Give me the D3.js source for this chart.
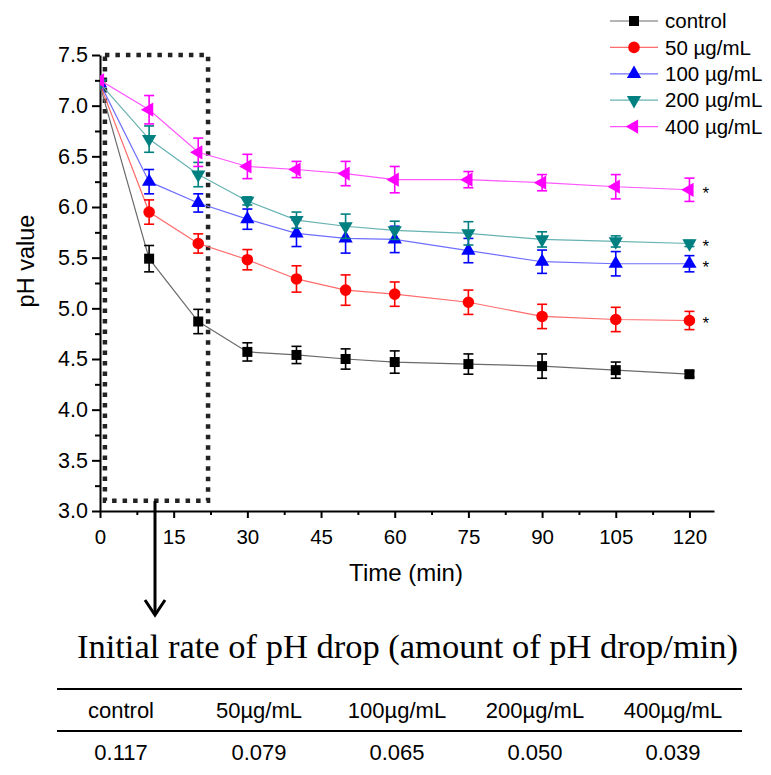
<!DOCTYPE html>
<html>
<head>
<meta charset="utf-8">
<script src="https://cdn.jsdelivr.net/npm/d3@7"></script>
<style>
  body { margin: 0; background: #fff; }
  svg { display: block; font-family: "Liberation Sans", Arial, sans-serif; }
</style>
</head>
<body>
<svg id="chart" width="771" height="775"></svg>
<script>
// Data
const times = [0, 10, 20, 30, 40, 50, 60, 75, 90, 105, 120];
const seriesNames = ['control', '50 µg/mL', '100 µg/mL', '200 µg/mL', '400 µg/mL'];
const controlMean = [7.20, 5.49, 4.87, 4.57, 4.54, 4.50, 4.47, 4.45, 4.43, 4.39, 4.35];
const controlErr  = [0.02, 0.13, 0.12, 0.09, 0.085, 0.10, 0.11, 0.10, 0.12, 0.08, 0.03];
const c50Mean  = [7.21, 5.95, 5.64, 5.48, 5.29, 5.18, 5.14, 5.06, 4.92, 4.89, 4.88];
const c50Err   = [0.02, 0.12, 0.095, 0.10, 0.13, 0.15, 0.12, 0.12, 0.12, 0.12, 0.09];
const c100Mean = [7.22, 6.25, 6.04, 5.88, 5.74, 5.69, 5.68, 5.57, 5.46, 5.44, 5.44];
const c100Err  = [0.02, 0.12, 0.09, 0.10, 0.13, 0.145, 0.13, 0.12, 0.115, 0.12, 0.08];
const c200Mean = [7.22, 6.67, 6.32, 6.06, 5.87, 5.81, 5.77, 5.74, 5.68, 5.66, 5.64];
const c200Err  = [0.02, 0.13, 0.12, 0.04, 0.08, 0.12, 0.09, 0.115, 0.075, 0.055, 0.03];
const c400Mean = [7.25, 6.96, 6.54, 6.40, 6.37, 6.33, 6.27, 6.27, 6.24, 6.20, 6.17];
const c400Err  = [0.02, 0.14, 0.14, 0.12, 0.08, 0.12, 0.13, 0.08, 0.08, 0.12, 0.115];
const significant = [false, true, true, true, true]; // '*' after the last point

const xTicks = [0, 15, 30, 45, 60, 75, 90, 105, 120];
const yTicks = [3.0, 3.5, 4.0, 4.5, 5.0, 5.5, 6.0, 6.5, 7.0, 7.5];

// Zoom box around the initial phase, in data units
const boxTime = [1, 22];
const boxPH = [3.1, 7.5];

// Table under the chart
const tableTitle = 'Initial rate of pH drop (amount of pH drop/min)';
const tableHeads = ['control', '50µg/mL', '100µg/mL', '200µg/mL', '400µg/mL'];
const tableRates = ['0.117', '0.079', '0.065', '0.050', '0.039'];

// Styling per series
const markerColors = ['#000000', '#ff0000', '#0000ff', '#008080', '#ff00ff'];
const lineColors   = ['#6a6a6a', '#ff6a6a', '#6f6fff', '#66b2b2', '#ff55ff'];
const symbols = [
    {type: d3.symbolSquare, size: 100, rotate: 0},
    {type: d3.symbolCircle, size: 105, rotate: 0},
    {type: d3.symbolTriangle, size: 88, rotate: 0},
    {type: d3.symbolTriangle, size: 88, rotate: 180},
    {type: d3.symbolTriangle, size: 88, rotate: -90},
];

const means = [controlMean, c50Mean, c100Mean, c200Mean, c400Mean];
const errs  = [controlErr, c50Err, c100Err, c200Err, c400Err];
const series = seriesNames.map((name, i) => ({
    name, i,
    points: times.map((t, j) => ({t, v: means[i][j], e: errs[i][j]}))
}));

const svg = d3.select('#chart');

// Plot area
const plotLeft = 100, plotRight = 714, plotTop = 55, plotBottom = 511;
const x = d3.scaleLinear().domain([0, 125]).range([plotLeft, plotRight]);
const y = d3.scaleLinear().domain([3, 7.5]).range([plotBottom, plotTop]);

// markers at t=0 get cut by the axis, like in the original
svg.append('defs').append('clipPath').attr('id', 'plot-clip')
    .append('rect')
    .attr('x', plotLeft).attr('y', 0)
    .attr('width', plotRight - plotLeft).attr('height', plotBottom);

// Axes: major + minor ticks
const minorX = d3.range(7.5, 125, 15);
const minorY = d3.range(3.25, 7.5, 0.5);

const xAxisG = svg.append('g').attr('transform', `translate(0,${plotBottom})`);
xAxisG.call(d3.axisBottom(x).tickValues(minorX).tickSize(4).tickFormat('').tickSizeOuter(0));
xAxisG.call(g => g.select('.domain').remove());
const xMajor = svg.append('g').attr('transform', `translate(0,${plotBottom})`)
    .call(d3.axisBottom(x).tickValues(xTicks).tickSize(7).tickPadding(11).tickSizeOuter(0));
xMajor.selectAll('text').style('font-size', '20.5px').attr('fill', '#000');

const yAxisG = svg.append('g').attr('transform', `translate(${plotLeft},0)`);
yAxisG.call(d3.axisLeft(y).tickValues(minorY).tickSize(5).tickFormat('').tickSizeOuter(0));
yAxisG.call(g => g.select('.domain').remove());
const yMajor = svg.append('g').attr('transform', `translate(${plotLeft},0)`)
    .call(d3.axisLeft(y).tickValues(yTicks).tickSize(8).tickPadding(4).tickFormat(d3.format('.1f')).tickSizeOuter(0));
yMajor.selectAll('text').style('font-size', '21.5px').attr('fill', '#000');

svg.selectAll('.domain, .tick line').attr('stroke', '#000').attr('stroke-width', 2);

// Axis titles
svg.append('text')
    .attr('x', 406).attr('y', 581)
    .attr('text-anchor', 'middle')
    .style('font-size', '24px')
    .text('Time (min)');
svg.append('text')
    .attr('transform', 'translate(34,261) rotate(-90)')
    .attr('text-anchor', 'middle')
    .style('font-size', '23.5px')
    .text('pH value');

// Dotted box
svg.append('rect')
    .attr('x', x(boxTime[0])).attr('y', y(boxPH[1]))
    .attr('width', x(boxTime[1]) - x(boxTime[0]))
    .attr('height', y(boxPH[0]) - y(boxPH[1]))
    .attr('fill', 'none')
    .attr('stroke', '#222')
    .attr('stroke-width', 4.5)
    .attr('stroke-dasharray', '4.5,6');

// Lines, error bars, markers
const line = d3.line().x(d => x(d.t)).y(d => y(d.v));
const symbolPath = s => d3.symbol().type(s.type).size(s.size)();

const plotG = svg.append('g').attr('clip-path', 'url(#plot-clip)');
const sG = plotG.selectAll('g.series').data(series).join('g').attr('class', 'series');

sG.append('path')
    .attr('d', d => line(d.points))
    .attr('fill', 'none')
    .attr('stroke', d => lineColors[d.i])
    .attr('stroke-width', 1.2);

sG.each(function(s) {
    const g = d3.select(this);
    const eb = g.selectAll('g.err').data(s.points.filter(p => p.e > 0.025)).join('g')
        .attr('class', 'err')
        .attr('stroke', markerColors[s.i])
        .attr('stroke-width', 1.6);
    eb.append('line')
        .attr('x1', p => x(p.t)).attr('x2', p => x(p.t))
        .attr('y1', p => y(p.v - p.e)).attr('y2', p => y(p.v + p.e));
    eb.append('line')
        .attr('x1', p => x(p.t) - 5).attr('x2', p => x(p.t) + 5)
        .attr('y1', p => y(p.v + p.e)).attr('y2', p => y(p.v + p.e));
    eb.append('line')
        .attr('x1', p => x(p.t) - 5).attr('x2', p => x(p.t) + 5)
        .attr('y1', p => y(p.v - p.e)).attr('y2', p => y(p.v - p.e));
});

sG.each(function(s) {
    d3.select(this).selectAll('path.mark').data(s.points).join('path')
        .attr('class', 'mark')
        .attr('d', symbolPath(symbols[s.i]))
        .attr('transform', p => `translate(${x(p.t)},${y(p.v)}) rotate(${symbols[s.i].rotate})`)
        .attr('fill', markerColors[s.i]);
});

// Significance stars
svg.selectAll('text.star').data(series.filter(s => significant[s.i])).join('text')
    .attr('class', 'star')
    .attr('x', x(120) + 13)
    .attr('y', s => y(s.points[s.points.length - 1].v) + 9)
    .style('font-size', '17px')
    .text('*');

// Legend
const legend = svg.append('g').attr('transform', 'translate(610,21)');
const lg = legend.selectAll('g').data(series).join('g')
    .attr('transform', (d, i) => `translate(0,${i * 26.4})`);
lg.append('line').attr('x1', 0).attr('x2', 48)
    .attr('stroke', d => lineColors[d.i]).attr('stroke-width', 1.2);
lg.append('path')
    .attr('d', d => symbolPath(symbols[d.i]))
    .attr('transform', d => `translate(24,0) rotate(${symbols[d.i].rotate})`)
    .attr('fill', d => markerColors[d.i]);
lg.append('text').attr('x', 55).attr('dy', '0.35em')
    .style('font-size', '20.5px')
    .text(d => d.name);

// Arrow from the box down to the table
const arrowX = 155;
svg.append('line').attr('x1', arrowX).attr('x2', arrowX)
    .attr('y1', y(boxPH[0])).attr('y2', 614)
    .attr('stroke', '#000').attr('stroke-width', 3);
svg.append('path')
    .attr('d', `M${arrowX - 10},600 L${arrowX},615 L${arrowX + 10},600`)
    .attr('fill', 'none').attr('stroke', '#000').attr('stroke-width', 3);

// Table
svg.append('text')
    .attr('x', 407.5).attr('y', 658)
    .attr('text-anchor', 'middle')
    .style('font-family', '"Liberation Serif", "Times New Roman", serif')
    .style('font-size', '34.5px')
    .text(tableTitle);

const col = d3.scaleBand().domain(tableHeads).range([52, 742]);
svg.append('line').attr('x1', 57).attr('x2', 742).attr('y1', 689).attr('y2', 689)
    .attr('stroke', '#000').attr('stroke-width', 2.2);
svg.append('line').attr('x1', 57).attr('x2', 742).attr('y1', 731).attr('y2', 731)
    .attr('stroke', '#000').attr('stroke-width', 2.2);

svg.selectAll('text.head').data(tableHeads).join('text')
    .attr('class', 'head')
    .attr('x', d => col(d) + col.bandwidth() / 2)
    .attr('y', 718)
    .attr('text-anchor', 'middle')
    .style('font-size', '22px')
    .text(d => d);

svg.selectAll('text.rate').data(tableRates).join('text')
    .attr('class', 'rate')
    .attr('x', (d, i) => col(tableHeads[i]) + col.bandwidth() / 2)
    .attr('y', 760)
    .attr('text-anchor', 'middle')
    .style('font-size', '22px')
    .text(d => d);
</script>
</body>
</html>
